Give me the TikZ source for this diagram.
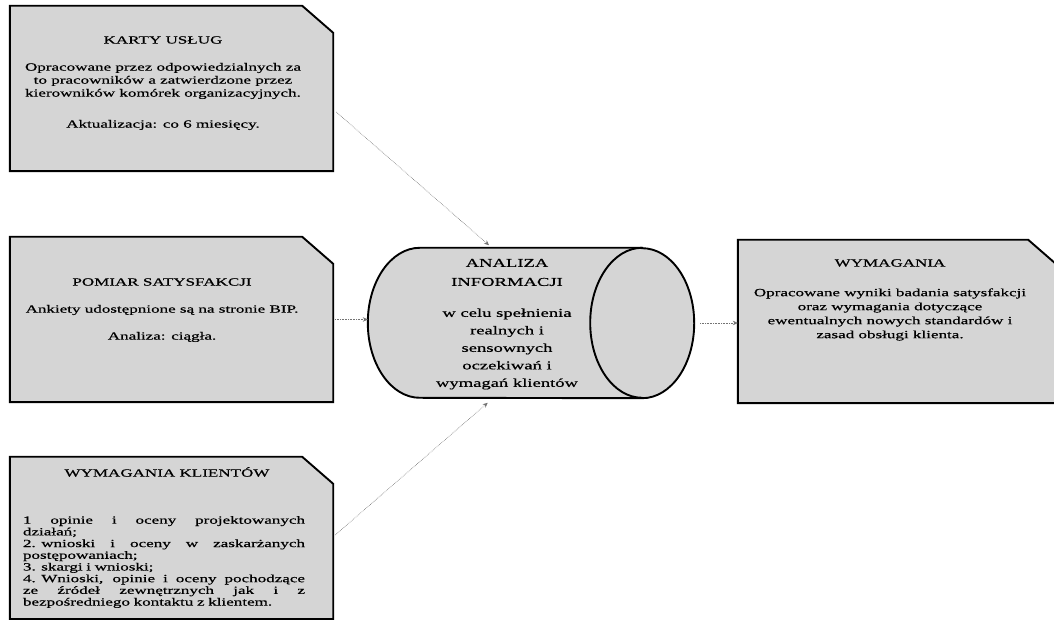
\documentclass[tikz,border=0pt]{standalone}
\usepackage{fontspec}
\setmainfont{Liberation Serif}
\newfontfamily\widefont[FakeStretch=1.55,FakeBold=0.6]{Liberation Serif}
\usetikzlibrary{arrows.meta}
\definecolor{boxgray}{HTML}{D5D5D5}
\newcommand\chamferbox[1]{%
  \draw[panel] (#1.south west) -- (#1.north west) -- ([xshift=-31pt]#1.north east)
    -- ([yshift=-27pt]#1.north east) -- (#1.south east) -- cycle;}
\newcommand\justline[1]{\makebox[282pt][s]{\spaceskip=0.3em plus 1fil\relax #1}}
\begin{document}
\begin{tikzpicture}[x=1pt,y=1pt,
  panel/.style={draw=black, line width=1.9pt, fill=boxgray, line join=miter},
  area/.style={inner sep=0pt, minimum width=#1},
  txt/.style={font=\widefont\fontsize{11}{13}\selectfont, align=center, inner sep=0pt},
  ctxt/.style={font=\widefont\fontsize{12}{17.5}\selectfont, align=center, inner sep=0pt},
  conn/.style={draw=black!55, line width=0.6pt, densely dotted,
    -{Stealth[length=5pt,width=4.5pt,fill=black!55]}}
]
\useasboundingbox (0,0) rectangle (1054,620);
\fill[white] (0,0) rectangle (1054,620);
\clip (0,0) rectangle (1054,620);

% area nodes
\node[area=323pt, minimum height=165pt] (kart) at (171.5,531.5) {};
\node[area=323pt, minimum height=165pt] (pom) at (171.5,300.5) {};
\node[area=323pt, minimum height=162pt] (wym) at (171.5,82) {};
\node[area=321pt, minimum height=163pt] (req) at (898.5,298.5) {};
\node[area=326pt, minimum height=150pt] (cyl) at (531,297) {};

\chamferbox{kart}
\chamferbox{pom}
\chamferbox{wym}
\chamferbox{req}

% cylinder
\draw[panel] ([xshift=-52pt]cyl.north east) -- ([xshift=52pt]cyl.north west)
  arc[start angle=90,end angle=270,x radius=52pt,y radius=75pt]
  -- ([xshift=-52pt]cyl.south east)
  arc[start angle=-90,end angle=90,x radius=52pt,y radius=75pt] -- cycle;
\draw[line width=1.9pt] ([xshift=-52pt]cyl.north east)
  arc[start angle=90,end angle=270,x radius=52pt,y radius=75pt];

% texts box 1
\node[txt] (kartT) at (163,580) {KARTY USŁUG};
\node[txt] (kartP) at (163,539) {Opracowane przez odpowiedzialnych za\\to pracowników a zatwierdzone przez\\kierowników komórek organizacyjnych.};
\node[txt] (kartA) at (163,495) {Aktualizacja: co 6 miesięcy.};

% texts box 2
\node[txt] (pomT) at (162,338) {POMIAR SATYSFAKCJI};
\node[txt] (pomP) at (162,310) {Ankiety udostępnione są na stronie BIP.};
\node[txt] (pomA) at (162,283) {Analiza: ciągła.};

% texts box 3
\node[txt] (wymT) at (167,148) {WYMAGANIA KLIENTÓW};
\node[txt, font=\widefont\fontsize{11}{11.7}\selectfont, text width=282pt, align=left] (wymP) at (164,58) {%
\justline{1 opinie i oceny projektowanych}\\
działań;\\
\justline{2. wnioski i oceny w zaskarżanych}\\
postępowaniach;\\
3. skargi i wnioski;\\
\justline{4. Wnioski, opinie i oceny pochodzące}\\
\justline{ze źródeł zewnętrznych jak i z}\\
bezpośredniego kontaktu z klientem.};

% texts box 4
\node[txt] (reqT) at (890,357) {WYMAGANIA};
\node[txt, font=\widefont\fontsize{11}{14}\selectfont] (reqP) at (890,305.5) {Opracowane wyniki badania satysfakcji\\oraz wymagania dotyczące\\ewentualnych nowych standardów i\\zasad obsługi klienta.};

% cylinder texts
\node[ctxt, font=\widefont\fontsize{12}{19}\selectfont] (cylT) at (507,347.5) {ANALIZA\\INFORMACJI};
\node[ctxt] (cylP) at (507,271) {w celu spełnienia\\realnych i\\sensownych\\oczekiwań i\\wymagań klientów};

% connectors
\draw[conn, shorten >=4pt] ([xshift=3pt,yshift=-23.5pt]kart.east) -- ([xshift=-39pt]cyl.north);
\draw[conn] ([xshift=2pt]pom.east) -- (pom.east -| cyl.west);
\draw[conn, shorten >=7pt] ([xshift=2pt,yshift=3pt]wym.east) -- ([xshift=-38pt]cyl.south);
\draw[conn, shorten <=6pt] (cyl.east) -- (cyl.east -| req.west);
\end{tikzpicture}
\end{document}
